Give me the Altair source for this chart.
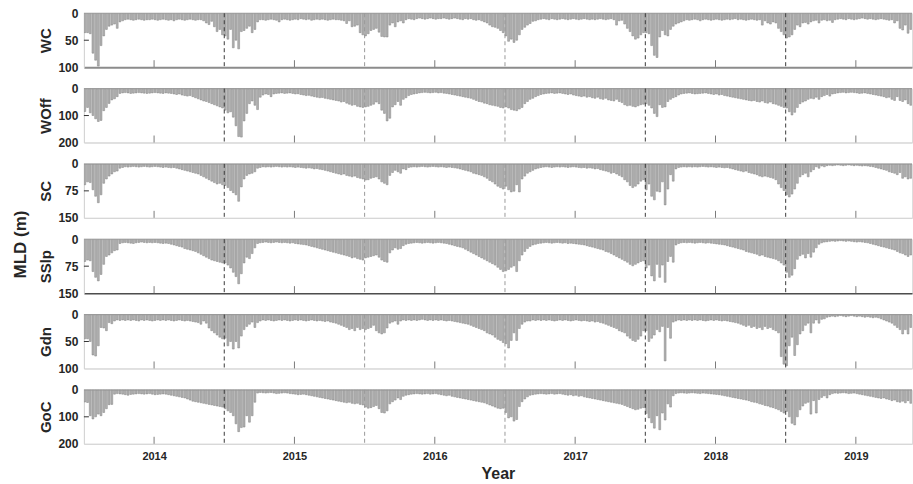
import altair as alt
import pandas as pd

# ---------------- data (weekly mixed-layer depth, m) ----------------
panels = ["WC", "WOff", "SC", "SSlp", "Gdn", "GoC"]
y_max = [100, 200, 150, 150, 100, 200]
y_ticks = [[0, 50, 100], [0, 100, 200], [0, 75, 150], [0, 75, 150], [0, 50, 100], [0, 100, 200]]
season_start = [2013.5, 2014.5, 2015.5, 2016.5, 2017.5, 2018.5]
year_ticks = [2014, 2015, 2016, 2017, 2018, 2019]
dashed_at = [2014.5, 2015.5, 2016.5, 2017.5, 2018.5]

wc = [
    [36, 36, 38, 74, 87, 98, 60, 42, 30, 24, 22, 20, 28, 16, 14,
     12, 11, 12, 13, 12, 11, 12, 13, 12, 12, 11, 12, 13, 12, 11, 12, 13, 12, 14, 12, 11, 12, 13, 12, 11, 12, 13, 12, 12, 14,
     18, 21, 15, 25, 34, 30, 40],
    [42, 48, 30, 64, 50, 66, 34, 32, 28, 24, 36, 30, 16, 12,
     12, 13, 12, 11, 12, 13, 16, 12, 11, 12, 13, 12, 11, 12, 10, 11, 12, 11, 13, 12, 11, 12, 11, 12, 13, 12, 11, 12, 12, 13, 14,
     19, 14, 25, 24, 22, 36, 40],
    [42, 38, 32, 30, 28, 35, 43, 44, 44, 22, 18, 25, 16, 14, 18, 12,
     10, 11, 12, 10, 9, 10, 11, 10, 9, 10, 11, 10, 10, 9, 10, 11, 10, 9, 10, 11, 12, 10, 11, 10, 12, 13, 12, 14, 16,
     18, 22, 25, 26, 28, 32, 36],
    [42, 52, 48, 54, 50, 40, 30, 26, 22, 19, 15, 14, 12,
     11, 10, 11, 12, 10, 11, 12, 11, 10, 11, 12, 11, 10, 11, 12, 11, 10, 11, 12, 11, 12, 11, 10, 11, 12, 11, 10, 12, 22, 14, 13,
     20, 28, 34, 42, 48, 46, 40, 36],
    [36, 38, 60, 78, 82, 44, 32, 40, 42, 30, 24, 20, 18, 16, 14,
     12, 13, 12, 11, 12, 14, 12, 11, 12, 13, 12, 11, 12, 13, 12, 11, 12, 11, 10, 12, 11, 12, 13, 12, 11, 12, 13, 12, 22, 14,
     18, 20, 16, 18, 28, 34, 40],
    [46, 44, 40, 30, 22, 25, 18, 17, 20, 16, 14, 13, 18, 13, 12, 14, 13, 17, 12, 11,
     10, 11, 12, 10, 11, 12, 11, 10, 9, 10, 11, 10, 11, 12, 11, 10, 11, 12, 13, 12,
     18, 14, 28, 31, 22, 37, 30],
]
woff = [
    [85, 70, 90, 100, 112, 122, 118, 82, 70, 55, 42, 38, 30, 18, 16,
     15, 16, 18, 17, 16, 15, 16, 17, 18, 17, 16, 15, 16, 17, 18, 16, 17, 18, 20, 22, 20, 24, 26, 28, 26, 30,
     34, 38, 42, 46, 48, 52, 56, 60, 64, 68, 72],
    [80, 90, 86, 106, 138, 178, 180, 120, 92, 56, 46, 62, 78, 32, 24, 20,
     22, 30, 20, 18, 17, 16, 18, 17, 16, 18, 20, 19, 22, 24, 26, 25, 28, 30, 32, 34, 33, 36, 38, 40, 42,
     44, 46, 50, 48, 54, 58, 62, 60, 66, 68, 70],
    [68, 66, 62, 58, 50, 56, 80, 92, 120, 110, 68, 60, 48, 62, 40, 34, 26,
     22, 20, 18, 16, 15, 14, 15, 16, 15, 14, 16, 15, 17, 18, 20, 22, 24, 26, 28, 30, 32, 34, 36, 40, 44, 48,
     50, 54, 56, 60, 62, 64, 66, 70, 72],
    [68, 72, 78, 80, 82, 76, 70, 56, 48, 40, 36, 30, 26, 22,
     20, 18, 17, 16, 18, 17, 16, 18, 20, 22, 20, 24, 26, 28, 30, 28, 32, 30, 34, 36, 32, 38, 40, 36, 42, 44,
     46, 40, 48, 52, 60, 64, 62, 66, 68, 64, 60, 58],
    [56, 62, 72, 92, 104, 60, 70, 68, 48, 40, 34, 30, 24,
     20, 18, 17, 16, 18, 20, 19, 18, 17, 16, 18, 20, 22, 20, 24, 22, 26, 28, 30, 32, 34, 36, 38, 40, 42, 44,
     46, 44, 48, 50, 46, 52, 54, 50, 56, 58, 62, 66, 70],
    [72, 86, 98, 88, 70, 56, 50, 46, 40, 36, 38, 32, 40, 30, 26, 22, 28, 20,
     18, 16, 15, 14, 16, 15, 14, 15, 16, 18, 17, 16, 18, 20, 22, 24, 26, 28, 30,
     34, 32, 40, 44, 30, 44, 48, 42, 56, 62],
]
sc = [
    [58, 50, 52, 72, 90, 108, 86, 54, 42, 34, 28, 22, 20, 12, 10,
     8, 9, 8, 7, 8, 9, 8, 7, 8, 9, 8, 7, 8, 9, 10, 9, 10, 11, 10, 12, 14, 16, 18, 20, 22, 24,
     26, 28, 32, 36, 40, 44, 48, 52, 56, 54, 58],
    [60, 66, 74, 80, 86, 104, 64, 42, 32, 28, 26, 22, 12, 10,
     8, 9, 8, 9, 8, 7, 8, 9, 8, 9, 8, 9, 10, 9, 10, 11, 12, 11, 12, 14, 13, 15, 16, 18, 20, 22,
     24, 26, 28, 30, 28, 32, 34, 36, 34, 38, 40, 42],
    [45, 44, 40, 38, 36, 42, 50, 54, 58, 32, 24, 18, 22, 26, 14, 16,
     10, 9, 8, 9, 8, 7, 8, 9, 8, 7, 8, 9, 8, 9, 10, 9, 10, 11, 12, 14, 16, 18, 20, 22, 26, 28, 30,
     32, 36, 40, 46, 50, 56, 62, 66, 70],
    [62, 72, 78, 76, 58, 78, 42, 34, 26, 22, 18, 14, 12,
     10, 9, 8, 9, 10, 9, 8, 9, 8, 9, 10, 9, 8, 9, 10, 11, 10, 12, 11, 12, 14, 13, 16, 18, 20, 22,
     26, 24, 28, 32, 36, 44, 50, 60, 66, 62, 56, 48, 44],
    [72, 56, 90, 100, 76, 78, 50, 114, 70, 30, 48, 14, 10,
     9, 8, 9, 8, 9, 8, 9, 8, 7, 8, 9, 8, 9, 10, 9, 10, 11, 10, 12, 14, 16, 18, 20, 22, 20, 24,
     26, 28, 30, 34, 36, 34, 36, 38, 40, 44, 56, 66, 74],
    [86, 92, 84, 70, 54, 36, 30, 26, 36, 22, 16, 8, 12, 6, 8,
     5, 4, 5, 4, 3, 4, 5, 4, 3, 4, 5, 4, 5, 6, 5, 6, 7, 8, 10, 12, 14, 16, 18,
     22, 24, 26, 30, 24, 40, 36, 42, 40],
]
sslp = [
    [62, 58, 60, 90, 106, 116, 98, 70, 48, 44, 38, 32, 30, 12,
     10, 9, 10, 11, 12, 10, 9, 8, 9, 10, 9, 10, 9, 10, 11, 12, 11, 12, 14, 16, 18, 20, 22, 26, 28, 30, 32,
     34, 38, 42, 46, 50, 54, 58, 60, 62, 64, 66],
    [66, 72, 80, 92, 104, 124, 96, 66, 50, 54, 40, 24, 12,
     10, 9, 8, 9, 10, 9, 8, 9, 10, 9, 10, 11, 10, 12, 13, 14, 15, 16, 18, 20, 22, 24, 26, 28, 30, 32, 34,
     36, 38, 40, 42, 44, 46, 48, 52, 50, 54, 56, 58],
    [52, 50, 48, 46, 44, 50, 58, 62, 64, 38, 30, 24, 28, 26, 18, 14,
     12, 11, 10, 9, 10, 11, 10, 9, 10, 11, 10, 9, 10, 11, 12, 14, 16, 18, 20, 22, 24, 28, 32, 36, 40, 44, 48,
     52, 56, 60, 64, 68, 72, 78, 84, 90],
    [88, 84, 78, 74, 90, 60, 44, 34, 26, 20, 16, 14,
     12, 11, 10, 9, 10, 11, 10, 9, 10, 11, 10, 12, 11, 12, 13, 14, 15, 16, 18, 20, 22, 24, 26, 28, 30, 34,
     36, 40, 44, 48, 52, 56, 60, 64, 70, 74, 70, 66, 62, 60],
    [80, 72, 102, 116, 70, 106, 72, 120, 62, 48, 64, 16, 12,
     10, 9, 10, 9, 10, 11, 10, 9, 10, 11, 10, 11, 12, 13, 14, 15, 16, 18, 20, 22, 24, 26, 28, 30, 34, 36,
     38, 40, 42, 46, 44, 48, 50, 52, 54, 56, 60, 66, 72],
    [92, 106, 100, 82, 56, 46, 42, 52, 40, 50, 36, 24, 14, 10,
     8, 7, 6, 5, 6, 5, 4, 5, 6, 5, 6, 7, 8, 7, 8, 9, 10, 12, 14, 16, 18, 20, 22, 24,
     26, 28, 30, 34, 38, 40, 44, 48, 44],
]
gdn = [
    [45, 45, 50, 75, 77, 58, 24, 25, 30, 15, 17, 12,
     10, 11, 10, 11, 10, 11, 10, 11, 12, 10, 11, 10, 11, 12, 11, 10, 11, 10, 11, 10, 11, 12, 11, 10, 11, 12, 11, 12, 13, 14,
     15, 18, 12, 16, 25, 30, 34, 38, 42, 45],
    [44, 58, 50, 64, 50, 62, 40, 28, 22, 18, 14, 24, 15, 12,
     10, 11, 10, 11, 12, 11, 10, 11, 10, 11, 12, 11, 10, 11, 10, 11, 12, 11, 10, 11, 12, 11, 12, 13, 12, 14, 15, 16, 18, 20, 22,
     24, 28, 26, 30, 24, 28, 26],
    [28, 26, 24, 20, 30, 34, 36, 34, 25, 16, 14, 12, 18, 12,
     10, 11, 10, 11, 10, 11, 10, 9, 10, 11, 10, 11, 10, 11, 10, 11, 12, 11, 12, 13, 14, 15, 16, 17, 18, 20, 22, 24, 26,
     28, 30, 34, 36, 38, 42, 46, 48, 52],
    [54, 62, 48, 34, 48, 26, 18, 14, 12, 12,
     10, 11, 10, 11, 10, 11, 10, 11, 12, 11, 10, 11, 10, 11, 12, 11, 10, 11, 12, 11, 12, 13, 12, 14, 13, 15, 16, 18, 20, 22,
     24, 26, 30, 32, 34, 40, 44, 48, 50, 46, 40, 30],
    [30, 50, 44, 38, 28, 32, 22, 86, 24, 44, 14, 12,
     10, 11, 10, 11, 10, 11, 10, 11, 10, 11, 12, 11, 10, 11, 10, 11, 12, 11, 12, 13, 14, 15, 16, 18, 20, 22, 20, 24, 22,
     26, 24, 28, 22, 26, 24, 28, 30, 34, 78, 92],
    [95, 58, 42, 76, 56, 36, 30, 20, 16, 34, 16, 10, 16, 9, 8,
     5, 4, 3, 4, 3, 2, 3, 4, 3, 2, 3, 4, 3, 4, 5, 4, 5, 6, 5, 6, 8, 10, 12, 14,
     16, 20, 24, 28, 36, 28, 36, 24],
]
goc = [
    [45, 47, 96, 108, 100, 90, 96, 84, 70, 55, 54, 16,
     14, 15, 16, 18, 20, 17, 16, 15, 14, 15, 16, 15, 14, 16, 18, 17, 16, 15, 16, 18, 20, 22, 24, 26, 28, 30, 34,
     38, 42, 44, 46, 48, 50, 52, 54, 56, 58, 60, 62, 64],
    [70, 78, 84, 96, 126, 155, 140, 138, 96, 120, 96, 46, 12,
     10, 11, 12, 11, 10, 12, 14, 13, 12, 11, 12, 14, 15, 16, 18, 17, 16, 18, 20, 22, 24, 26, 28, 30, 32, 34, 36, 38,
     40, 42, 44, 46, 48, 46, 50, 52, 50, 54, 56],
    [64, 68, 66, 62, 58, 70, 84, 86, 78, 52, 44, 38, 30, 36, 24,
     20, 18, 16, 15, 14, 15, 16, 15, 14, 16, 15, 14, 16, 18, 20, 22, 20, 24, 26, 28, 30, 32, 34, 36, 38, 40,
     42, 44, 46, 48, 52, 56, 60, 64, 68, 70, 68],
    [84, 104, 100, 116, 110, 62, 44, 34, 26, 20,
     18, 16, 15, 14, 15, 16, 15, 14, 16, 15, 14, 16, 18, 20, 18, 22, 20, 24, 22, 26, 28, 30, 32, 34, 36, 38, 40, 42, 44,
     46, 48, 50, 52, 54, 58, 62, 66, 70, 74, 72, 68, 66],
    [88, 104, 122, 142, 96, 148, 86, 112, 52, 64, 22, 14,
     12, 11, 12, 13, 12, 11, 12, 13, 14, 12, 13, 14, 15, 16, 17, 18, 20, 22, 24, 26, 28, 30, 32, 34, 36, 38, 40, 44,
     46, 48, 52, 54, 58, 60, 64, 66, 70, 74, 80, 86],
    [80, 100, 124, 130, 100, 74, 60, 50, 46, 90, 40, 86, 36, 28, 22, 30, 18,
     14, 12, 13, 12, 11, 12, 14, 13, 12, 14, 16, 18, 20, 22, 24, 26, 28, 30, 32, 30, 34,
     36, 40, 38, 44, 46, 42, 48, 40, 50],
]
series = [wc, woff, sc, sslp, gdn, goc]

# ---------------- layout / style ----------------
W, H = 829, 54
X_DOM = [2013.5, 2019.4]
TXT = "#262626"
FONT = "Liberation Sans"
domain_colors = ["#8c8c8c", "#d4d4d4", "#d4d4d4", "#4d4d4d", "#d4d4d4", "#d4d4d4"]
domain_widths = [2, 1, 1, 1.5, 1, 1]
dash_colors = ["#3a3a3a", "#9a9a9a", "#9a9a9a", "#3a3a3a", "#3a3a3a"]

dash_df = pd.DataFrame({"x": dashed_at, "c": dash_colors})
year_df = pd.DataFrame({"x": year_ticks})


def make_panel(i):
    rows = []
    for k, season in enumerate(series[i]):
        for w, v in enumerate(season):
            x0 = season_start[k] + w / 52.0
            rows.append({"x": x0, "x2": x0 + 0.68 / 52.0, "v": v, "base": 0})
    df = pd.DataFrame(rows)
    bottom = i == len(panels) - 1
    if bottom:
        xaxis = alt.Axis(values=year_ticks, format="d", ticks=False, labelPadding=7,
                         labelFontSize=11, labelFontWeight="bold", labelColor=TXT, labelFont=FONT,
                         title="Year", titleFontSize=16, titleFontWeight="bold", titleColor=TXT,
                         titleFont=FONT, titlePadding=4, grid=False,
                         domainColor=domain_colors[i], domainWidth=domain_widths[i])
    else:
        xaxis = alt.Axis(values=year_ticks, labels=False, ticks=False, title=None, grid=False,
                         domainColor=domain_colors[i], domainWidth=domain_widths[i])
    xs = alt.Scale(domain=X_DOM, nice=False, zero=False)
    ys = alt.Scale(domain=[0, y_max[i]], reverse=True, nice=False, zero=True)
    yaxis = alt.Axis(values=y_ticks[i], ticks=False, grid=False, labelPadding=6,
                     labelFontSize=12, labelFontWeight="bold", labelColor=TXT, labelFont=FONT,
                     title=panels[i], titleFontSize=15, titleFontWeight="bold", titleColor=TXT,
                     titleFont=FONT, titlePadding=4, domainColor="#d4d4d4", labelOverlap=False)

    bars = alt.Chart(df).mark_bar(fill="#b2b2b2", stroke="#808080", strokeWidth=0.5, clip=True).encode(
        x=alt.X("x:Q", scale=xs, axis=xaxis),
        x2="x2:Q",
        y=alt.Y("v:Q", scale=ys, axis=yaxis),
        y2="base:Q",
    )
    zero = alt.Chart(pd.DataFrame({"a": [0]})).mark_rule(color="#9a9a9a", strokeWidth=1).encode(
        x=alt.value(0), x2=alt.value(W), y=alt.value(0))
    mid = alt.Chart(pd.DataFrame({"a": [0]})).mark_rule(color="#333333", strokeWidth=1).encode(
        x=alt.value(0), x2=alt.value(5), y=alt.value(H / 2))
    dashes = alt.Chart(dash_df).mark_rule(strokeDash=[4, 3], strokeWidth=1).encode(
        x=alt.X("x:Q", scale=xs, axis=xaxis), y=alt.value(0), y2=alt.value(H),
        color=alt.Color("c:N", scale=None))
    yticks = alt.Chart(year_df).mark_rule(color="#7a7a7a", strokeWidth=1).encode(
        x=alt.X("x:Q", scale=xs, axis=xaxis), y=alt.value(H), y2=alt.value(H - 7))
    return alt.layer(bars, zero, dashes, yticks, mid).properties(width=W, height=H)


chart = alt.vconcat(*[make_panel(i) for i in range(len(panels))], spacing=21.4, bounds="flush").properties(
    title=alt.TitleParams("MLD (m)", orient="left", anchor="middle", fontSize=17, fontWeight="bold",
                          color=TXT, font=FONT, offset=8),
    padding={"left": 12, "top": 6, "right": 0, "bottom": 0},
).configure_view(stroke=None).configure(background="white")

chart.save("out.html", embed_options={"renderer": "svg", "actions": False})
